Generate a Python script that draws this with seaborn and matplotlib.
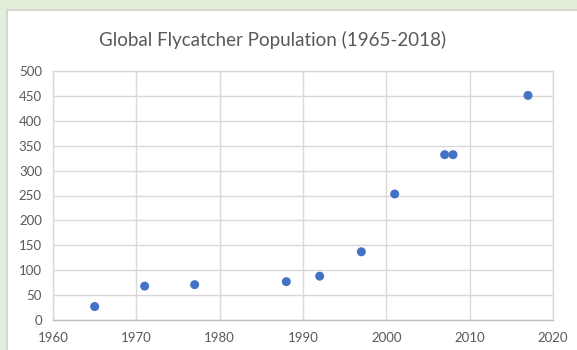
import matplotlib
matplotlib.use("Agg")
import matplotlib.pyplot as plt
from matplotlib.patches import Rectangle
import seaborn as sns
import pandas as pd

# Flycatcher population counts by survey year
years = [1965, 1971, 1977, 1988, 1992, 1997, 2001, 2007, 2008, 2017]
population = [27, 68, 71, 77, 88, 137, 253, 332, 332, 451]

x_ticks = [1960, 1970, 1980, 1990, 2000, 2010, 2020]
y_ticks = [0, 50, 100, 150, 200, 250, 300, 350, 400, 450, 500]
title = "Global Flycatcher Population (1965-2018)"

df = pd.DataFrame({"Year": years, "Population": population})

sns.set_theme(style="white")
plt.rcParams["font.family"] = ["Lato", "DejaVu Sans"]

W, H = 577, 350
fig = plt.figure(figsize=(W / 100, H / 100), dpi=100, facecolor="#e2efda")

# white chart card with a thin grey border
card = Rectangle((7 / W, -0.01), 1.0, 1 - 10 / H + 0.01, transform=fig.transFigure,
                 facecolor="white", edgecolor="#d0d0d0", linewidth=1.2, zorder=-1)
fig.patches.append(card)

ax = fig.add_axes([53 / W, 1 - 320 / H, 500 / W, 249 / H])
ax.set_zorder(2)
ax.set_facecolor("white")

sns.scatterplot(data=df, x="Year", y="Population", ax=ax, color="#4472c4",
                s=42, edgecolor="none", zorder=3)

ax.set_xlim(1960, 2020)
ax.set_ylim(0, 500)
ax.set_xticks(x_ticks)
ax.set_yticks(y_ticks)
ax.grid(True, color="#d9d9d9", linewidth=1)
for sp in ax.spines.values():
    sp.set_color("#d9d9d9")
    sp.set_linewidth(1)
ax.spines["bottom"].set_color("#bfbfbf")

ax.tick_params(axis="both", length=0, labelsize=9.5, labelcolor="#595959")
ax.tick_params(axis="x", pad=9)
ax.tick_params(axis="y", pad=8)
ax.set_xlabel("")
ax.set_ylabel("")

fig.text(273 / W, 1 - 40 / H, title, ha="center", va="center",
         fontsize=13.5, color="#595959", zorder=3)

fig.savefig("out.png", dpi=100, facecolor=fig.get_facecolor())
